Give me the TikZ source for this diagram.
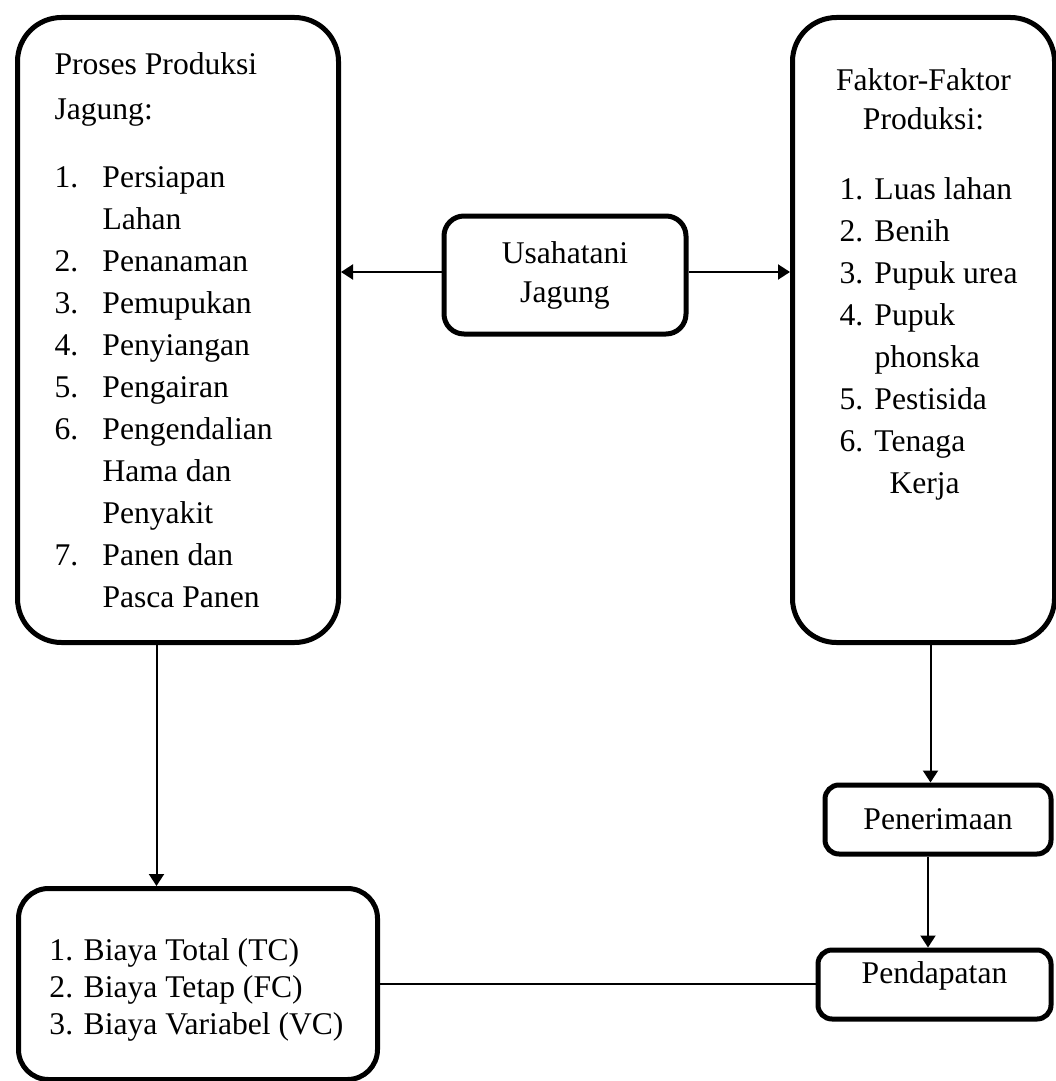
\documentclass[tikz,border=0pt]{standalone}
\usepackage{fontspec}
\setmainfont{Liberation Serif}
\usepackage{tikz}
\usetikzlibrary{arrows.meta}
\usetikzlibrary{positioning}

\newcommand{\numL}[1]{\makebox[24pt][l]{#1}}
\newcommand{\numR}[1]{\makebox[17.5pt][l]{#1}}
\newcommand{\rowR}[1]{\makebox[84pt][l]{#1}}

\tikzset{
    bigbox/.style={
           rectangle,
           rounded corners=22pt,
           draw=black, line width=2.5pt,
           inner ysep=0pt,
           font=\fontsize{15.8}{21}\selectfont,
           execute at begin node={\spaceskip=0pt\xspaceskip=0pt\relax},
           },
}
\tikzset{
    smallbox/.style={
           rectangle,
           rounded corners=7pt,
           draw=black, line width=2.5pt,
           inner sep=0pt,
           font=\fontsize{15.8}{19.5}\selectfont,
           execute at begin node={\spaceskip=0pt\xspaceskip=0pt\relax},
           },
}
\tikzset{
    arr/.style={
           -{Triangle[length=6pt,width=7.5pt]},
           line width=1pt,
           },
}

\begin{document}
\begin{tikzpicture}[x=0.5pt,y=-0.5pt]
\useasboundingbox (0,0) rectangle (1055,1081);
\node[bigbox,text width=123.5pt,inner xsep=18.5pt,text height=28.5pt,text depth=284pt,align=left,anchor=north west](PPJ) at (15,15){Proses Produksi\\[1.5pt]
Jagung:\\[13pt]
\numL{1.}Persiapan\\
\hspace*{24pt}Lahan\\
\numL{2.}Penanaman\\
\numL{3.}Pemupukan\\
\numL{4.}Penyiangan\\
\numL{5.}Pengairan\\
\numL{6.}Pengendalian\\
\hspace*{24pt}Hama dan\\
\hspace*{24pt}Penyakit\\
\numL{7.}Panen dan\\
\hspace*{24pt}Pasca Panen};
\node[bigbox,text width=90pt,inner xsep=20.5pt,text height=36.5pt,text depth=276pt,align=center,right = 224.5pt of PPJ](FKT){Faktor-Faktor\\[-1.5pt]
Produksi:\\[14pt]
\rowR{\numR{1.}Luas lahan}\\
\rowR{\numR{2.}Benih}\\
\rowR{\numR{3.}Pupuk urea}\\
\rowR{\numR{4.}Pupuk}\\
\rowR{\hspace*{17.5pt}phonska}\\
\rowR{\numR{5.}Pestisida}\\
\rowR{\numR{6.}Tenaga}\\
\rowR{\hspace*{25pt}Kerja}};
\node[smallbox,rounded corners=10pt,text width=121pt,text height=23.5pt,text depth=35.5pt,align=center](UJ) at (565,275){Usahatani\\Jagung};
\node[smallbox,rounded corners=15pt,font=\fontsize{15.8}{18.5}\selectfont,text width=159.5pt,inner xsep=10pt,text height=36pt,text depth=59.5pt,align=left,anchor=north west,
      execute at begin node={\spaceskip=0pt\xspaceskip=0pt\leftskip=5.5pt\relax}](BTV) at (16,886){1. Biaya Total (TC)\\
2. Biaya Tetap (FC)\\
3. Biaya Variabel (VC)};
\node[smallbox,minimum width=113pt,text height=22pt,text depth=12.5pt](PNR) at (938,819.5){Penerimaan};
\node[smallbox,minimum width=116.5pt,text height=16.5pt,text depth=18pt](PDT) at (934.5,984.5){Pendapatan};
\coordinate (UJw) at ([yshift=1.5pt]UJ.west);
\coordinate (UJe) at ([yshift=1.5pt]UJ.east);
\coordinate (PPJs) at ([xshift=-10.75pt]PPJ.south);
\coordinate (FKTs) at ([xshift=3.5pt]FKT.south);
\coordinate (PNRs) at ([xshift=-5pt]PNR.south);
\path (UJw) edge[arr] (UJw -| PPJ.east);
\path (UJe) edge[arr] (UJe -| FKT.west);
\path (PPJs) edge[arr] (PPJs |- BTV.north);
\path (FKTs) edge[arr] (FKTs |- PNR.north);
\path (PNRs) edge[arr] (PNRs |- PDT.north);
\path (BTV.east) edge[line width=1pt] (BTV.east -| PDT.west);
\end{tikzpicture}
\end{document}
